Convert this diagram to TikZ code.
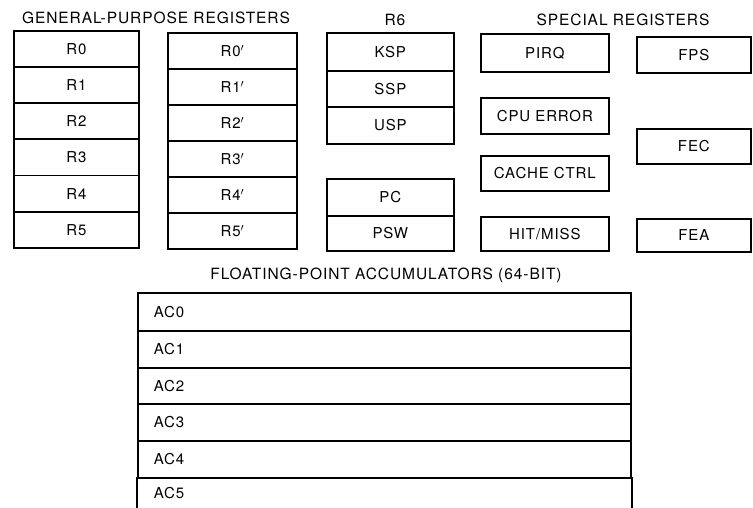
\documentclass[tikz,border=0pt]{standalone}
\usepackage{fontspec}
\setmainfont{TeX Gyre Heros}[LetterSpace=6]
\begin{document}
\begin{tikzpicture}[x=1pt,y=-1pt,
  reg/.style={draw, line width=1.7pt, rectangle, inner sep=0pt, font=\fontsize{15}{16}\selectfont},
  ttl/.style={inner sep=0pt, font=\fontsize{15.5}{17}\selectfont},
  acc/.style={reg, minimum width=493pt, text width=461pt, inner xsep=16pt, align=left, anchor=north west}]
\useasboundingbox (0,0) rectangle (753,508);
% titles
\node[ttl] (tgp) at (156,18) {GENERAL-PURPOSE REGISTERS};
\node[ttl] (tr6) at (395,20) {R6};
\node[ttl] (tsp) at (623,20) {SPECIAL REGISTERS};
\node[ttl] (tfp) at (386,275) {FLOATING-POINT ACCUMULATORS (64-BIT)};
% general purpose set 0
\foreach \i/\y in {0/30,1/66.2,2/102.3,3/138.5,4/174.7,5/210.8}
  \node[reg, anchor=north west, minimum width=125pt, minimum height=36.2pt] (a\i) at (13,\y) {R\i};
% general purpose set 1
\foreach \i/\y in {0/32,1/68,2/104,3/140,4/176,5/212}
  \node[reg, anchor=north west, minimum width=129pt, minimum height=36pt] (b\i) at (167,\y) {R\i$'$};
% R6
\node[reg, anchor=north west, minimum width=127pt, minimum height=38pt] (ksp) at (326,32) {KSP};
\node[reg, anchor=north west, minimum width=127pt, minimum height=36pt] (ssp) at (326,70) {SSP};
\node[reg, anchor=north west, minimum width=127pt, minimum height=37pt] (usp) at (326,106) {USP};
\node[reg, anchor=north west, minimum width=127pt, minimum height=37pt] (pc) at (326,178) {PC};
\node[reg, anchor=north west, minimum width=127pt, minimum height=35pt] (psw) at (326,215) {PSW};
% special registers
\node[reg, anchor=north west, minimum width=128pt, minimum height=38pt] (pirq) at (480,33) {PIRQ};
\node[reg, anchor=north west, minimum width=128pt, minimum height=36pt] (cpu) at (480,97) {CPU ERROR};
\node[reg, anchor=north west, minimum width=128pt, minimum height=35pt] (cache) at (480,155) {CACHE CTRL};
\node[reg, anchor=north west, minimum width=128pt, minimum height=34pt] (hit) at (480,216) {HIT/MISS};
\node[reg, anchor=north west, minimum width=114pt, minimum height=36pt] (fps) at (636,36) {FPS};
\node[reg, anchor=north west, minimum width=114pt, minimum height=35pt] (fec) at (636,128) {FEC};
\node[reg, anchor=north west, minimum width=114pt, minimum height=33pt] (fea) at (636,218) {FEA};
% floating point accumulators
\node[acc, minimum height=38pt] (ac0) at (137,292) {AC0};
\node[acc, minimum height=37pt] (ac1) at (137,330) {AC1};
\node[acc, minimum height=36pt] (ac2) at (137,367) {AC2};
\node[acc, minimum height=37pt] (ac3) at (137,403) {AC3};
\node[acc, minimum height=37pt] (ac4) at (137,440) {AC4};
\node[acc, draw=none, minimum height=31pt] (ac5) at (137,477) {AC5};
\draw[line width=1.7pt] (ac5.north west) -- (ac5.south west);
\draw[line width=1.7pt] (ac5.north east) -- (ac5.south east);
\end{tikzpicture}
\end{document}
